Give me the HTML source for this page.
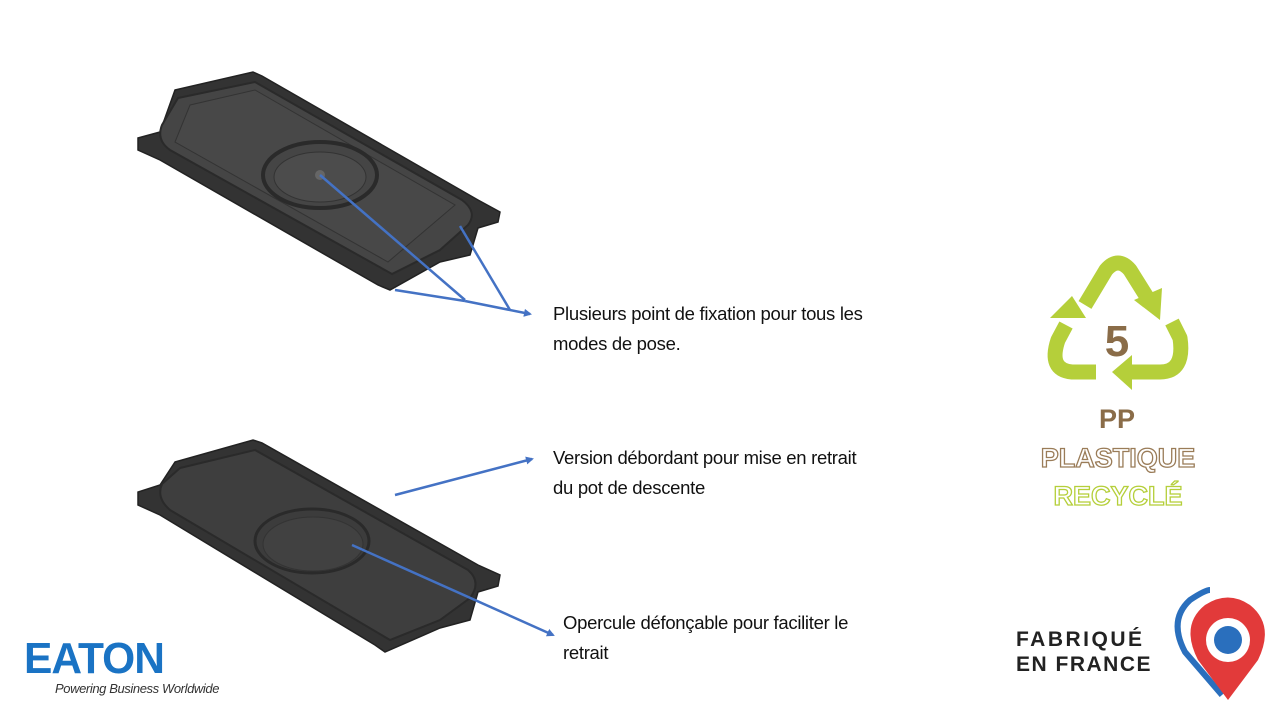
<!DOCTYPE html>
<html><head><meta charset="utf-8"><style>
body{margin:0;width:1280px;height:720px;background:#fff;overflow:hidden;position:relative;font-family:"Liberation Sans",sans-serif}
.t{position:absolute;font-size:18.5px;color:#111;line-height:30px;letter-spacing:-0.3px}
</style></head><body>
<svg width="1280" height="720" style="position:absolute;left:0;top:0">
<defs><marker id="a" markerWidth="8" markerHeight="8" refX="6" refY="4" orient="auto" markerUnits="userSpaceOnUse"><path d="M0,0L8,4L0,8z" fill="#4472C4"/></marker></defs>
<!-- top plate -->
<path d="M175,90 L253,72 L262,76 L478,200 L500,212 L498,222 L478,228 L470,255 L440,262 L390,290 L378,285 L160,160 L138,150 L138,138 L160,132 Z" fill="#333" stroke="#222" stroke-width="1.5"/>
<path d="M178,98 L255,82 L462,200 Q478,212 468,225 L440,250 L392,274 L170,150 Q156,140 162,125 Z" fill="#454545" stroke="#2a2a2a" stroke-width="2"/>
<path d="M190,105 L255,90 L455,205 L388,262 L175,142 Z" fill="#484848" stroke="#333"/>
<ellipse cx="320" cy="175" rx="57" ry="33" fill="#454545" stroke="#2a2a2a" stroke-width="4"/>
<ellipse cx="320" cy="177" rx="46" ry="25" fill="#4c4c4c" stroke="#333"/>
<circle cx="320" cy="175" r="5" fill="#666"/>
<!-- bottom plate -->
<path d="M175,462 L253,440 L262,443 L478,565 L500,575 L498,586 L478,592 L470,620 L440,628 L385,652 L375,645 L160,515 L138,505 L138,492 L160,485 Z" fill="#333" stroke="#222" stroke-width="1.5"/>
<path d="M180,468 L255,450 L468,570 Q482,582 470,598 L440,620 L390,640 L170,510 Q156,498 162,484 Z" fill="#3e3e3e" stroke="#2a2a2a" stroke-width="2"/>
<ellipse cx="312" cy="541" rx="57" ry="32" fill="#3c3c3c" stroke="#2a2a2a" stroke-width="3"/>
<ellipse cx="313" cy="544" rx="50" ry="27" fill="#414141" stroke="#333"/>
<!-- arrows -->
<g stroke="#4472C4" stroke-width="2.5" fill="none">
<line x1="320" y1="175" x2="465" y2="300"/>
<line x1="460" y1="226" x2="510" y2="310"/>
<line x1="395" y1="290" x2="465" y2="301"/>
<line x1="465" y1="301" x2="530" y2="314" marker-end="url(#a)"/>
<line x1="395" y1="495" x2="532" y2="459" marker-end="url(#a)"/>
<line x1="352" y1="545" x2="553" y2="635" marker-end="url(#a)"/>
</g>
<!-- recycle -->
<g fill="none" stroke="#b5cf3a" stroke-width="15" stroke-linejoin="round">
<path d="M1085,305 L1106,270 Q1118,256 1130,270 L1150,302"/>
<path d="M1172,322 L1180,338 Q1185,372 1160,372 L1130,372"/>
<path d="M1096,372 L1072,372 Q1048,370 1058,340 L1066,325"/>
</g>
<g fill="#b5cf3a">
<path d="M1134,300 L1162,288 L1160,320Z"/>
<path d="M1132,355 L1132,390 L1112,372Z"/>
<path d="M1050,318 L1086,318 L1072,296Z"/>
</g>
<text x="1117" y="356" font-size="44" font-weight="bold" fill="#8a6c48" text-anchor="middle">5</text>
<text x="1117" y="428" font-size="27" font-weight="bold" fill="#8a6c48" text-anchor="middle">PP</text>
<text x="1118" y="467" font-size="27" font-weight="bold" fill="none" stroke="#9a7c58" stroke-width="1.3" text-anchor="middle">PLASTIQUE</text>
<text x="1118" y="505" font-size="27" font-weight="bold" fill="none" stroke="#b5cf3a" stroke-width="1.3" text-anchor="middle">RECYCLÉ</text>
<!-- france pin -->
<path d="M1222,695 L1185,652 Q1168,620 1190,600 Q1205,590 1210,590" fill="none" stroke="#2a6fbd" stroke-width="6"/>
<path d="M1228,700 L1198,660 Q1180,625 1205,605 Q1228,590 1250,605 Q1275,625 1258,660 Z" fill="#e23a3a"/>
<circle cx="1228" cy="640" r="22" fill="#fff"/>
<circle cx="1228" cy="640" r="14" fill="#2a6fbd"/>
<text x="1016" y="646" font-size="21" font-weight="bold" fill="#222" letter-spacing="2.5">FABRIQUÉ</text>
<text x="1016" y="671" font-size="21" font-weight="bold" fill="#222" letter-spacing="1.5">EN FRANCE</text>
<!-- eaton -->
<text x="24" y="673" font-size="44" font-weight="bold" fill="#1a73c4" letter-spacing="-1" textLength="140" lengthAdjust="spacingAndGlyphs">EATON</text>
<text x="55" y="693" font-size="13" font-style="italic" fill="#333" letter-spacing="-0.4">Powering Business Worldwide</text>
</svg>
<div class="t" style="left:553px;top:299px">Plusieurs point de fixation pour tous les<br>modes de pose.</div>
<div class="t" style="left:553px;top:443px">Version débordant pour mise en retrait<br>du pot de descente</div>
<div class="t" style="left:563px;top:608px">Opercule défonçable pour faciliter le<br>retrait</div>
</body></html>
